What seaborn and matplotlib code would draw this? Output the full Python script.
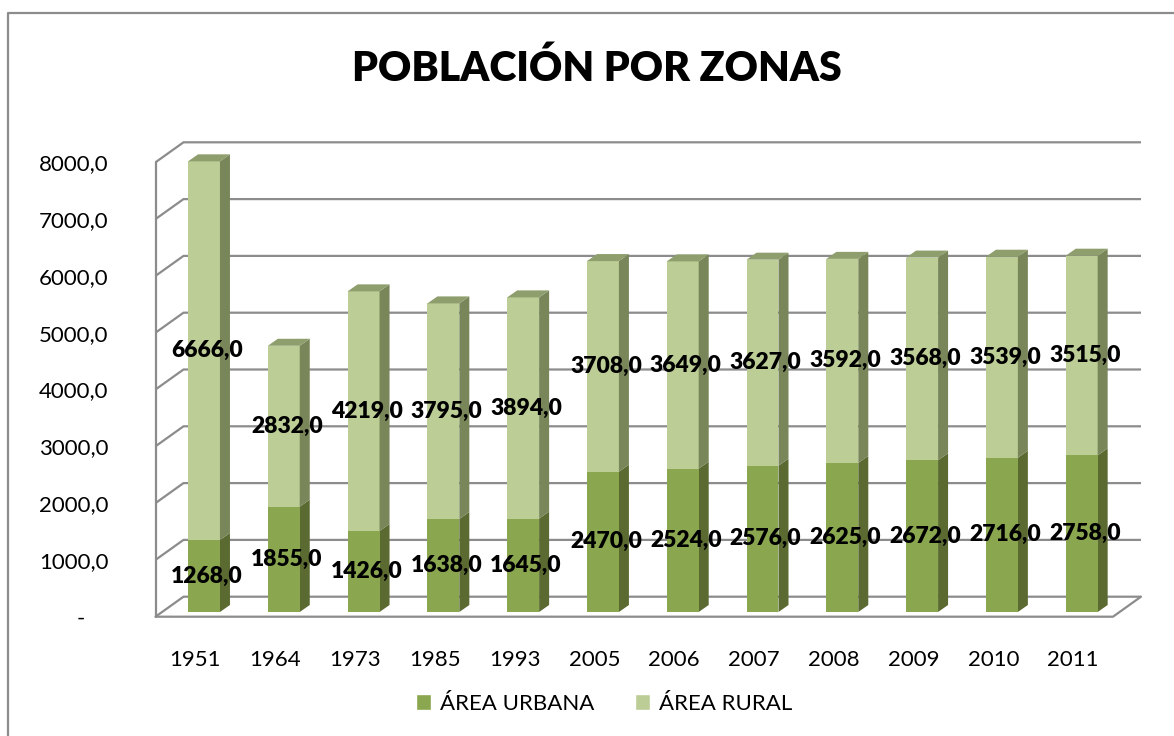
import numpy as np
import pandas as pd
import matplotlib
matplotlib.use("Agg")
import matplotlib.pyplot as plt
from matplotlib.patches import Polygon, Patch
from matplotlib.lines import Line2D
import seaborn as sns

# data
years = ["1951", "1964", "1973", "1985", "1993", "2005",
         "2006", "2007", "2008", "2009", "2010", "2011"]
urbana = [1268, 1855, 1426, 1638, 1645, 2470, 2524, 2576, 2625, 2672, 2716, 2758]
rural = [6666, 2832, 4219, 3795, 3894, 3708, 3649, 3627, 3592, 3568, 3539, 3515]
y_ticks = [0, 1000, 2000, 3000, 4000, 5000, 6000, 7000, 8000]

df = pd.DataFrame({"year": years, "urbana": urbana, "rural": rural})
df["total"] = df.urbana + df.rural

# colours
urb_front, urb_side = "#8aa64e", "#5a6a30"
rur_front, rur_side, rur_top = "#bccd96", "#788659", "#8e9e6d"
grid_col = "#8c8c8c"

sns.set_style("white")
plt.rcParams["font.family"] = ["Lato", "DejaVu Sans"]
plt.rcParams["text.color"] = "black"
plt.rcParams["xtick.labelcolor"] = "black"
plt.rcParams["ytick.labelcolor"] = "black"

W, H = 1174, 736
fig = plt.figure(figsize=(W / 100, H / 100), dpi=100)

# front plane in pixels
x0_px, x1_px = 155.5, 1113
y0_px, y8_px = 616.7, 162.3
ax = fig.add_axes([x0_px / W, 1 - y0_px / H, (x1_px - x0_px) / W, (y0_px - y8_px) / H])
n = len(years)
ax.set_xlim(-0.5, n - 0.5)
ax.set_ylim(0, 8000)

px_x = (x1_px - x0_px) / n
px_y = (y0_px - y8_px) / 8000
def dx(p):
    return p / px_x
def dy(p):
    return p / px_y

wall_dx, wall_dy = dx(28), dy(20)
bar_shift, bar_lift = dx(8.6), dy(4.7)
side_dx, side_dy = dx(10), dy(7)

# back wall gridlines and floor
for v in y_ticks:
    ax.plot([-0.5, -0.5 + wall_dx, n - 0.5 + wall_dx], [v, v + wall_dy, v + wall_dy],
            color=grid_col, lw=1.6, clip_on=False, zorder=1, solid_capstyle="butt")
ax.plot([-0.5, n - 0.5, n - 0.5 + wall_dx], [0, 0, wall_dy],
        color=grid_col, lw=1.6, clip_on=False, zorder=1)
ax.plot([-0.5, -0.5], [0, 8000], color=grid_col, lw=1.6, clip_on=False, zorder=1)

# front faces
sns.barplot(data=df, x="year", y="total", color=rur_front, saturation=1,
            width=0.4, ax=ax, linewidth=0, zorder=3)
sns.barplot(data=df, x="year", y="urbana", color=urb_front, saturation=1,
            width=0.4, ax=ax, linewidth=0, zorder=4)
for p in ax.patches:
    p.set_x(p.get_x() + bar_shift)
    p.set_y(p.get_y() + bar_lift)
    p.set_clip_on(False)

# sides and tops
for i, (u, t) in enumerate(zip(df.urbana, df.total)):
    xl = i + bar_shift - 0.2
    xr = i + bar_shift + 0.2
    for y_a, y_b, col in [(0, u, urb_side), (u, t, rur_side)]:
        a, b = y_a + bar_lift, y_b + bar_lift
        ax.add_patch(Polygon([(xr, a), (xr + side_dx, a + side_dy), (xr + side_dx, b + side_dy), (xr, b)],
                             closed=True, facecolor=col, edgecolor="none", zorder=3, clip_on=False))
    T = t + bar_lift
    ax.add_patch(Polygon([(xl, T), (xr, T), (xr + side_dx, T + side_dy), (xl + side_dx, T + side_dy)],
                         closed=True, facecolor=rur_top, edgecolor="none", zorder=3, clip_on=False))
    # data labels
    lx = i + bar_shift + dx(3)
    ax.text(lx, u / 2 + bar_lift, f"{u:.1f}".replace(".", ","), ha="center", va="center",
            fontsize=16.5, fontweight="heavy", color="black", zorder=6)
    ax.text(lx, u + (t - u) / 2 + bar_lift, f"{t - u:.1f}".replace(".", ","), ha="center",
            va="center", fontsize=16.5, fontweight="heavy", color="black", zorder=6)

# axes styling
for s in ax.spines.values():
    s.set_visible(False)
ax.set_xlabel("")
ax.set_ylabel("")
ax.set_yticks(y_ticks)
ax.set_yticklabels(["-    " if v == 0 else f"{v:.1f}".replace(".", ",") for v in y_ticks])
ax.tick_params(axis="y", length=8, width=1.6, color=grid_col, pad=26, labelsize=16)
ax.set_xticks(range(n))
ax.set_xticklabels(years)
ax.tick_params(axis="x", length=0, pad=24, labelsize=16)
ax.set_xticks(np.arange(-0.5, n, 1.0), minor=True)
ax.tick_params(axis="x", which="minor", length=7, width=1.6, color=grid_col)
ax.grid(False)

# title
fig.text(597 / W, 1 - 68 / H, "POBLACIÓN POR ZONAS", ha="center", va="center",
         fontsize=29.5, fontweight="heavy", color="black")

# legend
handles = [Patch(facecolor=urb_front, label="ÁREA URBANA"),
           Patch(facecolor=rur_front, label="ÁREA RURAL")]
fig.legend(handles=handles, loc="center", bbox_to_anchor=(604 / W, 1 - 704 / H), ncol=2,
           frameon=False, fontsize=16, handlelength=0.7, handleheight=0.7,
           handletextpad=0.4, columnspacing=1.8)

# outer frame
fig.add_artist(Line2D([8 / W, 8 / W, 1.0], [0.0, 1 - 13 / H, 1 - 13 / H],
                      transform=fig.transFigure, color="#8c8c8c", lw=1.6))

fig.savefig("out.png", dpi=100)
